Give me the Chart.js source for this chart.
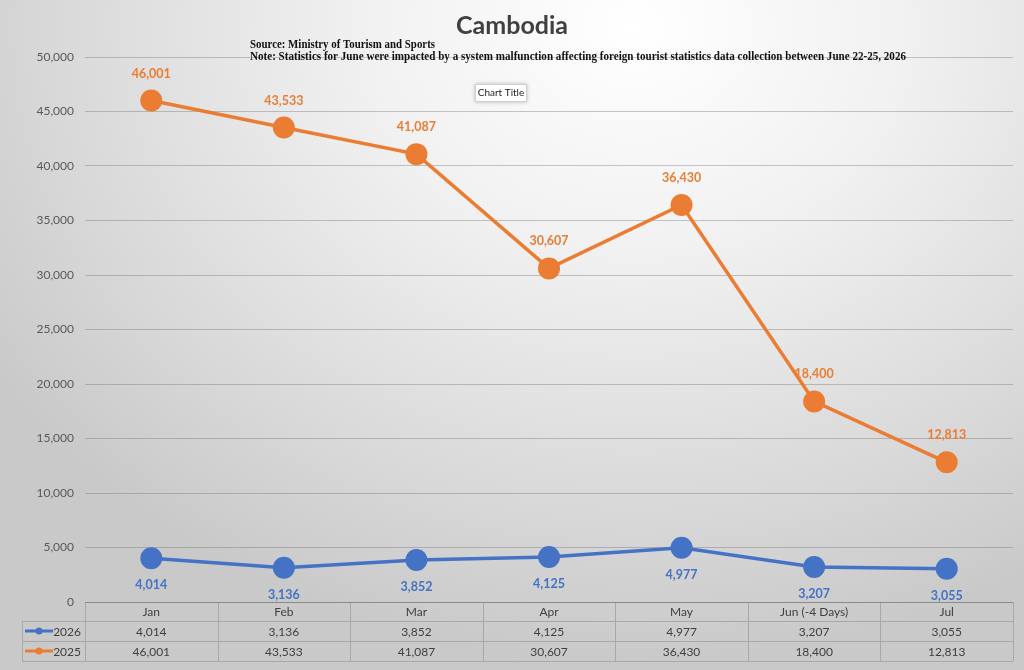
<!DOCTYPE html>
<html lang="en">
<head>
  <meta charset="UTF-8">
  <script src="https://cdn.jsdelivr.net/npm/chart.js"></script>
  <title>Cambodia</title>
  <style>
    body {
      margin: 0;
      padding: 0;
      overflow: hidden;
      background: radial-gradient(ellipse 75% 95% at 62% 4%, #ffffff 0%, #f1f1f1 35%, #dcdcdc 70%, #c9c9c9 100%);
    }
    .chart-container {
      position: relative;
      width: 1024px;
      height: 670px;
    }
  </style>
</head>
<body>
  <div class="chart-container">
    <canvas id="tourismChart" width="1024" height="670"></canvas>
  </div>

  <script>
    const months = ['Jan', 'Feb', 'Mar', 'Apr', 'May', 'Jun (-4 Days)', 'Jul'];
    const visitors2026 = [4014, 3136, 3852, 4125, 4977, 3207, 3055];
    const visitors2025 = [46001, 43533, 41087, 30607, 36430, 18400, 12813];
    const seriesNames = ['2026', '2025'];

    const blue = '#4472C4';
    const orange = '#EA7D33';
    const fmt = v => v.toLocaleString('en-US');

    // titles, data labels and the Excel-style data table under the plot
    const extrasPlugin = {
      id: 'extras',
      afterDraw(chart) {
        const ctx = chart.ctx;
        const area = chart.chartArea;
        const x = chart.scales.x;

        ctx.save();
        // main title
        ctx.fillStyle = '#404040';
        ctx.font = 'bold 25px Lato, sans-serif';
        ctx.textAlign = 'center';
        ctx.textBaseline = 'middle';
        ctx.fillText('Cambodia', 512, 26);

        // source / note
        ctx.fillStyle = '#111';
        ctx.font = 'bold 11.5px "Liberation Serif", serif';
        ctx.textAlign = 'left';
        ctx.fillText('Source: Ministry of Tourism and Sports', 250, 45, 185);
        ctx.fillText('Note: Statistics for June were impacted by a system malfunction affecting foreign tourist statistics data collection between June 22-25, 2026', 250, 57, 656);

        // stray "Chart Title" box
        ctx.shadowColor = 'rgba(0,0,0,0.25)';
        ctx.shadowBlur = 4;
        ctx.fillStyle = '#fff';
        ctx.fillRect(475, 84, 52, 18);
        ctx.shadowBlur = 0;
        ctx.strokeStyle = '#d0d0d0';
        ctx.lineWidth = 1;
        ctx.strokeRect(475.5, 84.5, 51, 17);
        ctx.fillStyle = '#222';
        ctx.font = '10px Lato, sans-serif';
        ctx.textAlign = 'center';
        ctx.fillText('Chart Title', 501, 93);

        // data labels
        ctx.font = 'bold 12.5px Lato, sans-serif';
        chart.data.datasets.forEach((ds, di) => {
          const meta = chart.getDatasetMeta(di);
          ctx.fillStyle = ds.borderColor;
          meta.data.forEach((pt, i) => {
            const dy = di === 0 ? 27 : -27;
            ctx.fillText(fmt(ds.data[i]), pt.x, pt.y + dy);
          });
        });

        // data table
        const half = (x.getPixelForValue(1) - x.getPixelForValue(0)) / 2;
        const top = area.bottom;
        const rowH = [19, 20, 20];
        const legLeft = 22;
        const right = area.right;
        const y1 = top + rowH[0];
        const y2 = y1 + rowH[1];
        const y3 = y2 + rowH[2];

        ctx.strokeStyle = '#a8a8a8';
        ctx.lineWidth = 1;
        ctx.beginPath();
        // horizontal lines
        ctx.moveTo(area.left, top + 0.5); ctx.lineTo(right, top + 0.5);
        [y1, y2, y3].forEach(yy => {
          ctx.moveTo(legLeft, Math.round(yy) + 0.5);
          ctx.lineTo(right, Math.round(yy) + 0.5);
        });
        // vertical lines
        ctx.moveTo(legLeft + 0.5, y1); ctx.lineTo(legLeft + 0.5, y3);
        for (let i = 0; i <= months.length; i++) {
          const xx = Math.round(x.getPixelForValue(0) - half + i * half * 2) + 0.5;
          ctx.moveTo(xx, top); ctx.lineTo(xx, y3);
        }
        ctx.stroke();

        // axis line at zero
        ctx.strokeStyle = '#8a8a8a';
        ctx.beginPath();
        ctx.moveTo(area.left, top + 0.5); ctx.lineTo(right, top + 0.5);
        ctx.stroke();

        ctx.fillStyle = '#404040';
        ctx.font = '12px Lato, sans-serif';
        ctx.textAlign = 'center';
        months.forEach((m, i) => {
          const cx = x.getPixelForValue(i);
          ctx.fillText(m, cx, (top + y1) / 2 + 1);
          ctx.fillText(fmt(visitors2026[i]), cx, (y1 + y2) / 2 + 1);
          ctx.fillText(fmt(visitors2025[i]), cx, (y2 + y3) / 2 + 1);
        });

        // legend keys in the table
        [[blue, (y1 + y2) / 2, seriesNames[0]], [orange, (y2 + y3) / 2, seriesNames[1]]].forEach(([c, yy, name]) => {
          ctx.strokeStyle = c;
          ctx.fillStyle = c;
          ctx.lineWidth = 3;
          ctx.beginPath();
          ctx.moveTo(25, yy); ctx.lineTo(53, yy);
          ctx.stroke();
          ctx.beginPath();
          ctx.arc(39, yy, 3.5, 0, Math.PI * 2);
          ctx.fill();
          ctx.fillStyle = '#404040';
          ctx.textAlign = 'right';
          ctx.fillText(name, 81, yy + 1);
        });
        ctx.restore();
      }
    };

    const ctx = document.getElementById('tourismChart').getContext('2d');
    new Chart(ctx, {
      type: 'line',
      data: {
        labels: months,
        datasets: [{
          label: seriesNames[0],
          data: visitors2026,
          borderColor: blue,
          backgroundColor: blue,
          borderWidth: 3.5,
          pointRadius: 11,
          pointHoverRadius: 11,
          pointBorderWidth: 0,
          tension: 0
        }, {
          label: seriesNames[1],
          data: visitors2025,
          borderColor: orange,
          backgroundColor: orange,
          borderWidth: 3.5,
          pointRadius: 11,
          pointHoverRadius: 11,
          pointBorderWidth: 0,
          tension: 0
        }]
      },
      options: {
        responsive: false,
        animation: false,
        layout: { padding: { top: 57, right: 11, bottom: 68, left: 0 } },
        plugins: {
          legend: { display: false },
          title: { display: false },
          tooltip: { enabled: false }
        },
        scales: {
          x: {
            display: false,
            offset: true
          },
          y: {
            min: 0,
            max: 50000,
            afterFit(scale) { scale.width = 85; },
            ticks: {
              stepSize: 5000,
              padding: 11,
              color: '#595959',
              font: { family: 'Lato, sans-serif', size: 12 },
              callback: v => fmt(v)
            },
            border: { display: false },
            grid: {
              drawTicks: false,
              color: ctx => ctx.tick && ctx.tick.value === 0 ? 'rgba(0,0,0,0)' : 'rgba(110,110,110,0.38)'
            }
          }
        }
      },
      plugins: [extrasPlugin]
    });
  </script>
</body>
</html>
